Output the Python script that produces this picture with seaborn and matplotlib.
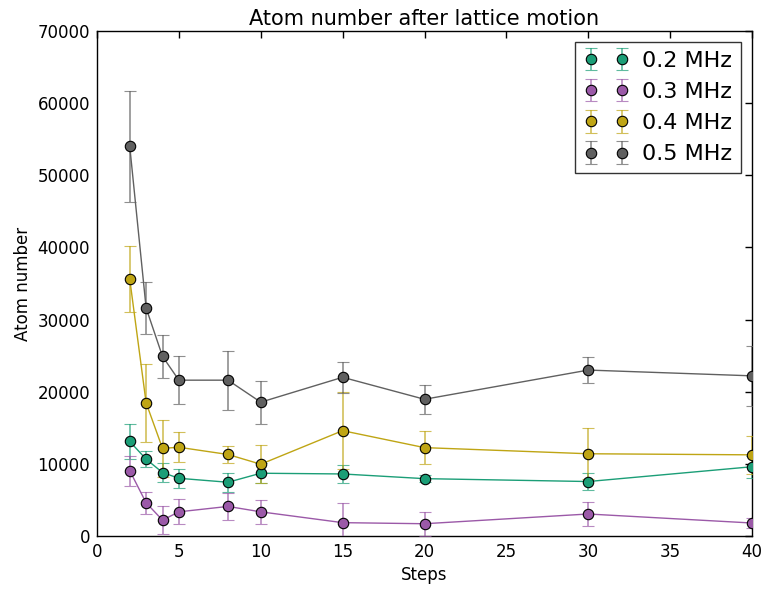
import numpy as np
import pandas as pd
import matplotlib
matplotlib.use("Agg")
import matplotlib.pyplot as plt
import matplotlib.colors as mcolors
import seaborn as sns

steps = [2, 3, 4, 5, 8, 10, 15, 20, 30, 40]
labels = ["0.2 MHz", "0.3 MHz", "0.4 MHz", "0.5 MHz"]
colors = ["#1b9e77", "#9b59a8", "#bfa514", "#606060"]

atoms_02 = [13100, 10650, 8800, 8000, 7450, 8700, 8600, 7950, 7550, 9600]
err_02 = [2400, 1100, 1250, 1350, 1350, 1400, 1250, 500, 1150, 1500]
atoms_03 = [9050, 4600, 2200, 3350, 4100, 3350, 1850, 1700, 3050, 1800]
err_03 = [2100, 1550, 1950, 1750, 1900, 1700, 2750, 1650, 1700, 700]
atoms_04 = [35600, 18450, 12150, 12300, 11300, 9950, 14600, 12250, 11400, 11250]
err_04 = [4550, 5450, 3950, 2050, 1150, 2650, 5300, 2300, 3550, 2600]
atoms_05 = [54000, 31600, 24900, 21600, 21600, 18550, 22000, 18950, 23000, 22200]
err_05 = [7700, 3600, 3000, 3300, 4100, 3000, 2150, 2000, 1850, 4150]

series = [atoms_02, atoms_03, atoms_04, atoms_05]
errors = [err_02, err_03, err_04, err_05]

df = pd.concat([
    pd.DataFrame({"Steps": steps, "Atom number": s, "freq": lab})
    for s, lab in zip(series, labels)
])

sns.set_style("white")
plt.rcParams["font.family"] = ["DejaVu Sans"]
plt.rcParams["text.color"] = "black"
plt.rcParams["axes.labelcolor"] = "black"
plt.rcParams["xtick.color"] = "black"
plt.rcParams["ytick.color"] = "black"

fig = plt.figure(figsize=(7.65, 5.9), dpi=100)
ax = fig.add_axes([97 / 765, 1 - 536 / 590, (752 - 97) / 765, (536 - 31) / 590])

sns.lineplot(data=df, x="Steps", y="Atom number", hue="freq", hue_order=labels,
             palette=colors, legend=False, ax=ax, linewidth=1.0, zorder=2)

for s, e, c, lab in zip(series, errors, colors, labels):
    ec = mcolors.to_rgba(c, 0.7)
    ax.errorbar(steps, s, yerr=e, fmt="o", color=c, ecolor=ec, elinewidth=1.2,
                capsize=4, capthick=1.2, markersize=7.5, markeredgecolor="black",
                markeredgewidth=0.8, label=lab, zorder=3)

ax.set_xlim(0, 40)
ax.set_ylim(0, 70000)
ax.set_xticks(range(0, 41, 5))
ax.set_yticks(range(0, 70001, 10000))
ax.tick_params(direction="in", top=True, right=True, length=5, width=1,
               labelsize=12, colors="black", pad=5)
for sp in ax.spines.values():
    sp.set_color("black")
    sp.set_linewidth(1)
ax.set_xlabel("Steps", fontsize=12, color="black")
ax.set_ylabel("Atom number", fontsize=12, color="black")
ax.set_title("Atom number after lattice motion", fontsize=15, pad=4, color="black")

leg = ax.legend(loc="upper right", numpoints=2, fontsize=16, fancybox=False,
                frameon=True, borderaxespad=0.5, handletextpad=0.6)
leg.get_frame().set_edgecolor("black")
leg.get_frame().set_linewidth(1)
for t in leg.get_texts():
    t.set_color("black")

fig.savefig("out.png", dpi=100, facecolor="white")
